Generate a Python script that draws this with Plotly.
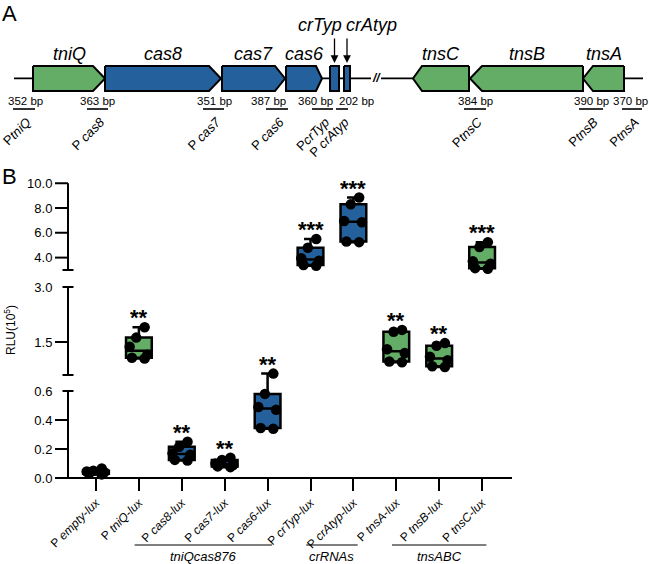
import plotly.graph_objects as go

W, H = 649, 564
FONT = "Arial, Liberation Sans, sans-serif"
GREEN = "#63ad66"
BLUE = "#23609c"

# ---------------- Panel A data (map coordinates) ----------------
gene_names  = ["tniQ", "cas8", "cas7", "cas6", "tnsC", "tnsB", "tnsA"]
gene_start  = [33, 105, 222, 286, 413, 470, 583]
gene_end    = [105, 221, 285, 322, 469, 583, 624]
gene_strand = [1, 1, 1, 1, -1, -1, -1]
gene_class  = ["tn", "cas", "cas", "cas", "tn", "tn", "tn"]
gene_head   = [12, 12, 10, 6, 9, 12, 10]

crrna_names = ["crTyp", "crAtyp"]
crrna_start = [330, 344]
crrna_end   = [339, 350]
crrna_label_x = [320, 371]

prom_labels  = ["P<i>tniQ</i>", "P <i>cas8</i>", "P <i>cas7</i>", "P <i>cas6</i>", "P<i>crTyp</i>",
                "P <i>crAtyp</i>", "P<i>tnsC</i>", "P<i>tnsB</i>", "P<i>tnsA</i>"]
prom_sizes   = ["352 bp", "363 bp", "351 bp", "387 bp", "360 bp", "202 bp", "384 bp", "390 bp", "370 bp"]
prom_start   = [13, 87, 203, 266, 312, 336, 464, 579, 622]
prom_end     = [35, 108, 224, 288, 333, 348, 486, 603, 642]
size_label_x = [25, 97, 214, 268, 315, 356, 475, 591, 630]

# ---------------- Panel B data ----------------
categories = ["P <i>empty</i>-<i>lux</i>", "P <i>tniQ</i>-<i>lux</i>", "P <i>cas8</i>-<i>lux</i>",
              "P <i>cas7</i>-<i>lux</i>", "P <i>cas6</i>-<i>lux</i>", "P <i>crTyp</i>-<i>lux</i>",
              "P <i>crAtyp</i>-<i>lux</i>", "P <i>tnsA</i>-<i>lux</i>", "P <i>tnsB</i>-<i>lux</i>",
              "P <i>tnsC</i>-<i>lux</i>"]
rlu_values = [
    [0.025, 0.03, 0.04, 0.045, 0.05, 0.065],   # P empty
    [1.05, 1.07, 1.15, 1.37, 1.62, 1.90],      # P tniQ
    [0.12, 0.125, 0.16, 0.17, 0.215, 0.25],    # P cas8
    [0.075, 0.08, 0.09, 0.10, 0.125, 0.14],    # P cas7
    [0.34, 0.345, 0.47, 0.49, 0.58, 0.72],     # P cas6
    [3.35, 3.40, 3.75, 3.95, 4.80, 5.50],      # P crTyp
    [5.25, 5.30, 6.85, 6.95, 8.30, 8.85],      # P crAtyp
    [0.95, 0.97, 1.20, 1.30, 1.78, 1.83],      # P tnsA
    [0.82, 0.84, 1.00, 1.10, 1.40, 1.47],      # P tnsB
    [3.10, 3.15, 3.50, 3.70, 4.85, 5.25],      # P tnsC
]
significance = ["", "**", "**", "**", "**", "***", "***", "**", "**", "***"]
box_class = ["empty", "tn", "cas", "cas", "cas", "cas", "cas", "tn", "tn", "tn"]

group_names = ["tniQcas876", "crRNAs", "tnsABC"]
group_first = [1, 5, 7]
group_last  = [4, 6, 9]

seg_lo = [0.0, 0.6, 3.0]
seg_hi = [0.6, 3.0, 10.0]
seg_ticks = [[0.0, 0.2, 0.4, 0.6], [1.5, 3.0], [4.0, 6.0, 8.0, 10.0]]

# ---------------- layout geometry (pixels) ----------------
seg_px_lo = [478, 375, 270]
seg_px_hi = [391, 287, 183.3]
seg_pad_lo = [14, 14, 14]
seg_pad_hi = [34, 14, 14]
seg_caps = [[0.6], [0.6, 3.0], [3.0]]
YAX_X = 68
X_L, X_R = 58, 512
CAT0_PX, CAT_STEP = 96, 42.9
class_color = {"tn": GREEN, "cas": BLUE, "empty": "white"}

fig = go.Figure()

# ---------- Panel A ----------
MAP_H = 160
TOP, BOT, MID = 66, 91, 78.5
BB_Y = 78.3
fig.add_trace(go.Scatter(x=[14, 371, None, 381, 643], y=[BB_Y, BB_Y, None, BB_Y, BB_Y],
                         mode="lines", line=dict(color="black", width=1.8),
                         xaxis="x4", yaxis="y4", hoverinfo="skip", showlegend=False))
for n, s, e, st, c, h in zip(gene_names, gene_start, gene_end, gene_strand, gene_class, gene_head):
    if st > 0:
        xs = [s, e - h, e, e - h, s, s]
    else:
        xs = [e, s + h, s, s + h, e, e]
    ys = [TOP, TOP, MID, BOT, BOT, TOP]
    fig.add_trace(go.Scatter(x=xs, y=ys, fill="toself", fillcolor=class_color[c], mode="lines",
                             line=dict(color="black", width=2), xaxis="x4", yaxis="y4",
                             hoverinfo="skip", showlegend=False))
    fig.add_annotation(x=(s + e) / 2, y=54, xref="x4", yref="y4", text=f"<i>{n}</i>",
                       showarrow=False, font=dict(size=18, family=FONT, color="black"))
for n, s, e, lx in zip(crrna_names, crrna_start, crrna_end, crrna_label_x):
    fig.add_trace(go.Scatter(x=[s, e, e, s, s], y=[TOP, TOP, BOT, BOT, TOP], fill="toself",
                             fillcolor=BLUE, mode="lines", line=dict(color="black", width=2),
                             xaxis="x4", yaxis="y4", hoverinfo="skip", showlegend=False))
    fig.add_annotation(x=(s + e) / 2, y=63, ax=(s + e) / 2, ay=37, xref="x4", yref="y4",
                       axref="x4", ayref="y4", text="", showarrow=True, arrowhead=2,
                       arrowsize=1.2, arrowwidth=1.3, arrowcolor="black")
    fig.add_annotation(x=lx, y=25, xref="x4", yref="y4", text=f"<i>{n}</i>", showarrow=False,
                       font=dict(size=18, family=FONT, color="black"))
fig.add_annotation(x=376, y=BB_Y, xref="x4", yref="y4", text="<b><i>//</i></b>", showarrow=False,
                   font=dict(size=12, family=FONT, color="black"))

px_, py_ = [], []
for s, e in zip(prom_start, prom_end):
    px_ += [s, e, None]
    py_ += [109, 109, None]
fig.add_trace(go.Scatter(x=px_, y=py_, mode="lines", line=dict(color="black", width=1.6),
                         xaxis="x4", yaxis="y4", hoverinfo="skip", showlegend=False))
for sz, sx in zip(prom_sizes, size_label_x):
    fig.add_annotation(x=sx, y=109, xref="x4", yref="y4", text=sz, showarrow=False,
                       yanchor="bottom", font=dict(size=11.5, family=FONT, color="black"))
# helper trace so that the promoter-name axis (x5) is drawn
prom_mid = [(s + e) / 2 for s, e in zip(prom_start, prom_end)]
fig.add_trace(go.Scatter(x=prom_mid, y=[109] * len(prom_mid), mode="markers",
                         marker=dict(opacity=0), xaxis="x5", yaxis="y4",
                         hoverinfo="skip", showlegend=False))

# ---------- Panel B ----------
def seg_of(vals):
    m = max(vals)
    if m <= 0.8:
        return 0
    if m <= 3.0:
        return 1
    return 2

axk = ["", "2", "3"]
for i, vals in enumerate(rlu_values):
    sgi = seg_of(vals)
    fig.add_trace(go.Box(x=[i] * len(vals), y=vals, xaxis="x" + axk[sgi], yaxis="y" + axk[sgi],
                         boxpoints="all", jitter=0.85, pointpos=0, width=0.6, whiskerwidth=0.5,
                         fillcolor=class_color[box_class[i]],
                         line=dict(color="black", width=2.5),
                         marker=dict(color="black", size=10.5, line=dict(width=0)),
                         quartilemethod="exclusive", showlegend=False, hoverinfo="skip"))
    if significance[i]:
        fig.add_annotation(x=i, y=max(vals), xref="x" + axk[sgi], yref="y" + axk[sgi],
                           text=f"<b>{significance[i]}</b>", showarrow=False, yanchor="bottom",
                           yshift=-5, font=dict(size=22, family=FONT, color="black"))

xdom = [X_L / W, X_R / W]
xrange_ = [(X_L - CAT0_PX) / CAT_STEP, (X_R - CAT0_PX) / CAT_STEP]
layout = dict(
    width=W, height=H, autosize=False,
    margin=dict(l=0, r=0, t=0, b=0, pad=0, autoexpand=False),
    paper_bgcolor="white", plot_bgcolor="rgba(0,0,0,0)",
    font=dict(family=FONT, color="black"),
    boxmode="overlay",
    xaxis=dict(domain=xdom, range=xrange_, anchor="free", position=(H - 478) / H,
               tickmode="array", tickvals=list(range(len(categories))), ticktext=categories,
               tickangle=-45, ticks="outside", ticklen=12, tickwidth=2, tickcolor="black",
               showline=True, linewidth=2, linecolor="black", showgrid=False, zeroline=False,
               automargin=False, tickfont=dict(size=12, family=FONT, color="black")),
    xaxis2=dict(domain=xdom, matches="x", anchor="y2", visible=False),
    xaxis3=dict(domain=xdom, matches="x", anchor="y3", visible=False),
    xaxis4=dict(domain=[0, 1], range=[0, W], anchor="y4", visible=False),
    yaxis4=dict(domain=[(H - MAP_H) / H, 1], range=[MAP_H, 0], anchor="x4", visible=False),
    # promoter names under the gene map, drawn as rotated tick labels
    xaxis5=dict(domain=[0, 1], range=[0, W], anchor="free", position=(H - 111) / H,
                overlaying="x4", side="bottom", tickmode="array",
                tickvals=[m + 3 for m in prom_mid], ticktext=prom_labels, tickangle=-45,
                ticks="", showline=False, showgrid=False, zeroline=False, automargin=False,
                tickfont=dict(size=13, family=FONT, color="black")),
)
shapes = []
for k in range(3):
    lo, hi = seg_lo[k], seg_hi[k]
    scale = (seg_px_lo[k] - seg_px_hi[k]) / (hi - lo)
    rng = [lo - seg_pad_lo[k] / scale, hi + seg_pad_hi[k] / scale]
    dom = [(H - seg_px_lo[k] - seg_pad_lo[k]) / H, (H - seg_px_hi[k] + seg_pad_hi[k]) / H]
    yname = "y" + axk[k]
    layout["yaxis" + axk[k]] = dict(
        domain=dom, range=rng, anchor="free", position=YAX_X / W, showline=False,
        showgrid=False, zeroline=False, tickmode="array", tickvals=seg_ticks[k],
        ticktext=[f"{v:.1f}" for v in seg_ticks[k]], ticks="outside", ticklen=13,
        automargin=False,
        tickcolor="rgba(0,0,0,0)", tickfont=dict(size=13, family=FONT, color="black"))
    shapes.append(dict(type="line", xref="paper", yref=yname, x0=YAX_X / W, x1=YAX_X / W,
                       y0=lo, y1=hi, line=dict(color="black", width=2)))
    for v in seg_ticks[k]:
        if v in seg_caps[k]:
            continue
        shapes.append(dict(type="line", xref="paper", yref=yname, xsizemode="pixel",
                           xanchor=YAX_X / W, x0=-13, x1=0, y0=v, y1=v,
                           line=dict(color="black", width=2)))
    for v in seg_caps[k]:
        shapes.append(dict(type="line", xref="paper", yref=yname, xsizemode="pixel",
                           xanchor=YAX_X / W, x0=-5.5, x1=5.5, y0=v, y1=v,
                           line=dict(color="black", width=2)))
for n, a, b in zip(group_names, group_first, group_last):
    shapes.append(dict(type="line", xref="x", yref="paper", x0=a - 0.1, x1=b + 0.1,
                       y0=(H - 545) / H, y1=(H - 545) / H, line=dict(color="black", width=1.2)))
    fig.add_annotation(x=(a + b) / 2, y=(H - 556) / H, xref="x", yref="paper", text=f"<i>{n}</i>",
                       showarrow=False, yanchor="middle",
                       font=dict(size=13, family=FONT, color="black"))
layout["shapes"] = shapes
fig.update_layout(**layout)

fig.add_annotation(x=10 / W, y=(H - 330) / H, xref="paper", yref="paper", text="RLU(10<sup>5</sup>)",
                   textangle=-90, showarrow=False, xanchor="center", yanchor="middle",
                   font=dict(size=12, family=FONT, color="black"))
fig.add_annotation(x=0, y=(H - 14) / H, xref="paper", yref="paper", text="A", xanchor="left",
                   yanchor="middle", showarrow=False, font=dict(size=22, family=FONT, color="black"))
fig.add_annotation(x=0, y=(H - 176) / H, xref="paper", yref="paper", text="B", xanchor="left",
                   yanchor="middle", showarrow=False, font=dict(size=22, family=FONT, color="black"))

fig.write_html("out.html", config={"displayModeBar": False},
               post_script="document.body.style.margin='0';document.body.style.padding='0';")
